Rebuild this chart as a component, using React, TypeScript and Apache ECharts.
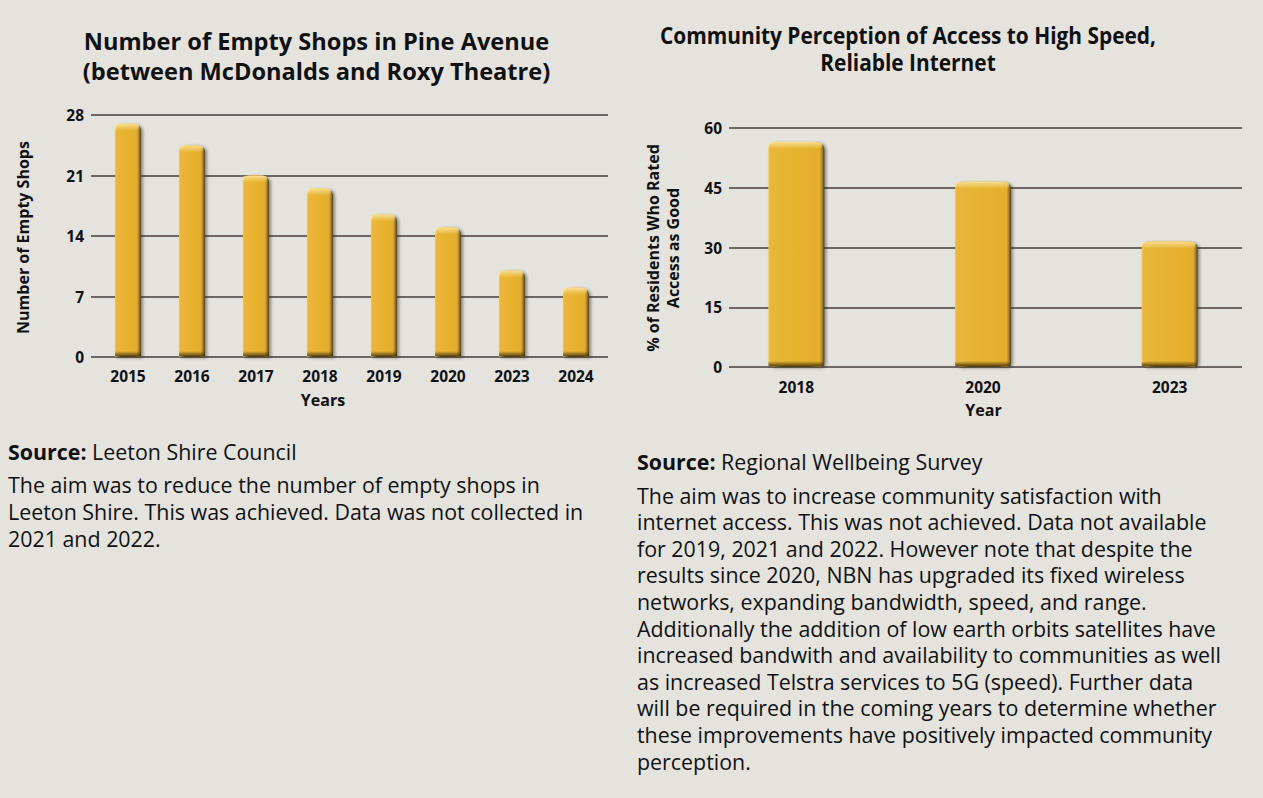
import React, { useEffect, useRef } from "react";
import * as echarts from "echarts";

// ---- data ----
const shopYears = ["2015", "2016", "2017", "2018", "2019", "2020", "2023", "2024"];
const emptyShops = [27, 24.5, 21, 19.5, 16.5, 15, 10, 8];
const shopTicks = [0, 7, 14, 21, 28];

const internetYears = ["2018", "2020", "2023"];
const ratedGood = [56.5, 46.5, 31.5];
const internetTicks = [0, 15, 30, 45, 60];

const leftTitle = ["Number of Empty Shops in Pine Avenue", "(between McDonalds and Roxy Theatre)"];
const rightTitle = ["Community Perception of Access to High Speed,", "Reliable Internet"];
const rightYName = ["% of Residents Who Rated", "Access as Good"];
const leftSource = "Leeton Shire Council";
const rightSource = "Regional Wellbeing Survey";
const leftNote = [
  "The aim was to reduce the number of empty shops in",
  "Leeton Shire. This was achieved. Data was not collected in",
  "2021 and 2022.",
];
const rightNote = [
  "The aim was to increase community satisfaction with",
  "internet access. This was not achieved. Data not available",
  "for 2019, 2021 and 2022. However note that despite the",
  "results since 2020, NBN has upgraded its fixed wireless",
  "networks, expanding bandwidth, speed, and range.",
  "Additionally the addition of low earth orbits satellites have",
  "increased bandwith and availability to communities as well",
  "as increased Telstra services to 5G (speed). Further data",
  "will be required in the coming years to determine whether",
  "these improvements have positively impacted community",
  "perception.",
];

const FONT = "'Open Sans', 'Noto Sans', sans-serif";
const BG = "#E4E3DE";
const GRID_LINE = "#6E6664";
const INK = "#111111";
const BODY = 21.4;

function barGradient(edge: number) {
  return new echarts.graphic.LinearGradient(0, 0, 1, 0, [
    { offset: 0, color: "#EFCB6E" },
    { offset: edge * 0.6, color: "#E8B73A" },
    { offset: 0.5, color: "#E6B22E" },
    { offset: 1 - edge * 1.6, color: "#E3AE2C" },
    { offset: 1 - edge * 0.7, color: "#A17C22" },
    { offset: 1, color: "#4C3A0F" },
  ]);
}

function topGlow() {
  return new echarts.graphic.LinearGradient(0, 0, 0, 1, [
    { offset: 0, color: "rgba(250,225,150,0.95)" },
    { offset: 1, color: "rgba(250,225,150,0)" },
  ]);
}
function bottomShade() {
  return new echarts.graphic.LinearGradient(0, 0, 0, 1, [
    { offset: 0, color: "rgba(60,45,10,0)" },
    { offset: 1, color: "rgba(60,45,10,0.95)" },
  ]);
}

function valueAxis(gridIndex: number, ticks: number[], show: boolean) {
  return {
    type: "value",
    gridIndex,
    min: ticks[0],
    max: ticks[ticks.length - 1],
    interval: ticks[1] - ticks[0],
    show,
    axisLine: { show: false },
    axisTick: { show: false },
    axisLabel: {
      show,
      margin: 7,
      color: INK,
      fontFamily: FONT,
      fontWeight: "bold",
      fontSize: 15.5,
    },
    splitLine: { show, lineStyle: { color: GRID_LINE, width: 2 } },
  };
}

function catAxis(gridIndex: number, data: string[], show: boolean, margin: number) {
  return {
    type: "category",
    gridIndex,
    data,
    show,
    boundaryGap: true,
    axisLine: { show: false },
    axisTick: { show: false },
    splitLine: { show: false },
    axisLabel: {
      show,
      margin,
      color: INK,
      fontFamily: FONT,
      fontWeight: "bold",
      fontSize: 15.5,
      interval: 0,
    },
  };
}

function barSeries(axisIndex: number, data: number[], width: number, edge: number, radius: number[]) {
  return [
    {
      type: "bar",
      xAxisIndex: axisIndex,
      yAxisIndex: axisIndex,
      data,
      barWidth: width,
      z: 2,
      itemStyle: {
        color: barGradient(edge),
        borderRadius: radius,
        shadowColor: "rgba(40,30,5,0.45)",
        shadowBlur: 3,
        shadowOffsetX: 2,
        shadowOffsetY: 1,
      },
    },
    {
      type: "pictorialBar",
      xAxisIndex: axisIndex,
      yAxisIndex: axisIndex,
      data,
      symbol: "roundRect",
      symbolSize: [width - 2, 7],
      symbolPosition: "end",
      symbolOffset: [-1, 0],
      z: 3,
      itemStyle: { color: topGlow() },
    },
    {
      type: "pictorialBar",
      xAxisIndex: axisIndex,
      yAxisIndex: axisIndex,
      data,
      symbol: "roundRect",
      symbolSize: [width, 6],
      symbolPosition: "start",
      z: 3,
      itemStyle: { color: bottomShade() },
    },
  ];
}

function txt(x: number, y: number, text: string, fontSize: number, weight: string, extra: any = {}) {
  return {
    type: "text",
    x,
    y,
    rotation: extra.rotation || 0,
    scaleX: extra.scaleX || 1,
    silent: true,
    style: {
      text,
      fill: INK,
      fontFamily: FONT,
      fontSize,
      fontWeight: weight,
      lineHeight: extra.lineHeight,
      align: extra.align || "center",
      textAlign: extra.align || "center",
      verticalAlign: "middle",
      textVerticalAlign: "middle",
      rich: extra.rich,
    },
  };
}

const srcRich = {
  b: { fontFamily: FONT, fontSize: BODY, fontWeight: "bold", fill: INK, color: INK },
  r: { fontFamily: FONT, fontSize: BODY, fontWeight: "normal", fill: INK, color: INK },
};

const option: any = {
  animation: false,
  backgroundColor: BG,
  grid: [
    { left: 91, top: 115, width: 517, height: 242 },
    { left: 96, top: 115, width: 512, height: 242 },
    { left: 729, top: 128, width: 513, height: 239 },
    { left: 703, top: 128, width: 562, height: 239 },
  ],
  xAxis: [
    catAxis(0, shopYears, false, 11),
    catAxis(1, shopYears, true, 11),
    catAxis(2, internetYears, false, 12),
    catAxis(3, internetYears, true, 12),
  ],
  yAxis: [
    valueAxis(0, shopTicks, true),
    valueAxis(1, shopTicks, false),
    valueAxis(2, internetTicks, true),
    valueAxis(3, internetTicks, false),
  ],
  series: [
    ...barSeries(1, emptyShops, 26, 0.1, [7, 7, 1, 1]),
    ...barSeries(3, ratedGood, 56, 0.05, [7, 7, 5, 5]),
  ],
  graphic: [
    txt(316.5, 41, leftTitle[0], 23.6, "bold"),
    txt(316.5, 71, leftTitle[1], 23.6, "bold"),
    txt(908, 35, rightTitle[0], 24, "bold", { scaleX: 0.87 }),
    txt(908, 61.5, rightTitle[1], 24, "bold", { scaleX: 0.87 }),
    txt(323, 400, "Years", 16, "bold"),
    txt(983.5, 410, "Year", 16, "bold"),
    txt(22.5, 237.5, "Number of Empty Shops", 16, "bold", { rotation: Math.PI / 2 }),
    txt(653, 248, rightYName[0], 16, "bold", { rotation: Math.PI / 2 }),
    txt(673, 248, rightYName[1], 16, "bold", { rotation: Math.PI / 2 }),
    txt(8, 451.7, `{b|Source:}{r| ${leftSource}}`, BODY, "normal", { align: "left", rich: srcRich }),
    txt(8, 511.5, leftNote.join("\n"), BODY, "normal", { align: "left", lineHeight: 26.6 }),
    txt(637, 461, `{b|Source:}{r| ${rightSource}}`, BODY, "normal", { align: "left", rich: srcRich }),
    txt(637, 628, rightNote.join("\n"), BODY, "normal", { align: "left", lineHeight: 26.6 }),
  ],
};

export default function App() {
  const ref = useRef<HTMLDivElement>(null);
  useEffect(() => {
    const chart = echarts.init(ref.current as HTMLDivElement, null, { renderer: "svg" });
    chart.setOption(option);
    return () => chart.dispose();
  }, []);
  return (
    <div style={{ position: "fixed", left: 0, top: 0, width: 1263, height: 798, background: BG }}>
      <div ref={ref} style={{ width: 1263, height: 798 }} />
    </div>
  );
}
